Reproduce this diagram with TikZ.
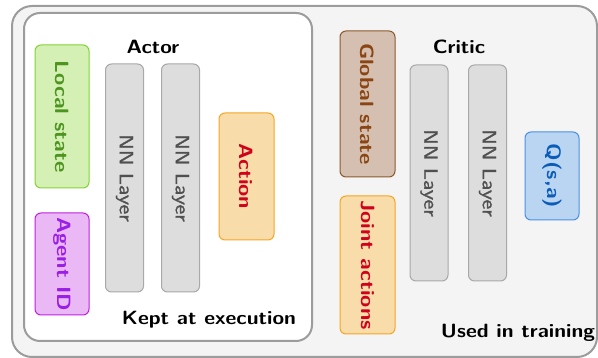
\documentclass[tikz,border=0pt]{standalone}
\usepackage{graphicx}
\usepackage{xcolor}
\usepackage{fontspec}
\newfontfamily\nnfont{lmsans10-regular.otf}[FakeBold=1.1]

% palette
\definecolor{frameGray}{HTML}{9C9C9C}
\definecolor{outerFill}{HTML}{F4F4F4}
\definecolor{nnFill}{HTML}{DDDDDD}
\definecolor{nnDraw}{HTML}{A8A8A8}
\definecolor{nnText}{HTML}{505050}
\definecolor{locFill}{HTML}{D4F0B4}
\definecolor{locDraw}{HTML}{82D435}
\definecolor{locText}{HTML}{4E9420}
\definecolor{idFill}{HTML}{EAB8F5}
\definecolor{idDraw}{HTML}{C21EE0}
\definecolor{idText}{HTML}{9A1EE6}
\definecolor{actFill}{HTML}{F8DCAA}
\definecolor{actDraw}{HTML}{F5A623}
\definecolor{actText}{HTML}{D0021B}
\definecolor{gloFill}{HTML}{D4BFB0}
\definecolor{gloDraw}{HTML}{8B5A2B}
\definecolor{gloText}{HTML}{8B4513}
\definecolor{qFill}{HTML}{BAD5F2}
\definecolor{qDraw}{HTML}{4A90E2}
\definecolor{qText}{HTML}{0B5CB8}

% 10pt design size, blown up (wide) for the labels
\newcommand{\sidetxt}[1]{\scalebox{2.3}[2]{#1}}
\newcommand{\headtxt}[1]{\scalebox{2.2}[2]{#1}}

\begin{document}
\begin{tikzpicture}[
		x=1pt, y=-1pt,
		frame/.style={draw=frameGray, line width=2pt, rounded corners=#1},
		tag/.style={rounded corners=6pt, rotate=-90, line width=1pt, inner sep=0pt,
			font=\sffamily\bfseries\fontsize{9.6}{11}\selectfont},
		nn/.style={tag, fill=nnFill, draw=nnDraw, text=nnText,
			minimum width=#1, minimum height=38pt,
			font=\nnfont\fontsize{9.6}{11}\selectfont},
		title/.style={font=\sffamily\bfseries\fontsize{9.6}{11}\selectfont}
		]
		
		\useasboundingbox (0,0) rectangle (598,358);
		
		% ==========================================
		% FRAMES
		% ==========================================
		\draw[frame=20pt, fill=outerFill] (12,6) rectangle (597,357);
		\draw[frame=16pt, fill=white] (24,13) rectangle (312,341);
		
		% ==========================================
		% ACTOR
		% ==========================================
		\node[title] (actor) at (153,47) {\headtxt{Actor}};
		
		\node[tag, fill=locFill, draw=locDraw, text=locText,
			minimum width=143pt, minimum height=54pt] (local) at (62,116.5) {\sidetxt{Local state}};
		\node[tag, fill=idFill, draw=idDraw, text=idText,
			minimum width=102pt, minimum height=54pt] (agent) at (62,264) {\sidetxt{Agent ID}};
		
		\node[nn=228pt] (anA) at (124.5,178) {\sidetxt{NN Layer}};
		\node[nn=228pt] (anB) at (180.5,178) {\sidetxt{NN Layer}};
		
		\node[tag, fill=actFill, draw=actDraw, text=actText,
			minimum width=127pt, minimum height=55pt] (action) at (246.5,176.5) {\sidetxt{Action}};
		
		\node[title] (kept) at (209,320) {\headtxt{Kept at execution}};
		
		% ==========================================
		% CRITIC
		% ==========================================
		\node[title] (critic) at (459,47) {\headtxt{Critic}};
		
		\node[tag, fill=gloFill, draw=gloDraw, text=gloText,
			minimum width=146pt, minimum height=55pt] (global) at (367.5,104) {\sidetxt{Global state}};
		\node[tag, fill=actFill, draw=actDraw, text=actText,
			minimum width=138pt, minimum height=55pt] (joint) at (367.5,265) {\sidetxt{Joint actions}};
		
		\node[nn=216pt] (cnA) at (429,173) {\sidetxt{NN Layer}};
		\node[nn=216pt] (cnB) at (487.5,173) {\sidetxt{NN Layer}};
		
		\node[tag, fill=qFill, draw=qDraw, text=qText,
			minimum width=88pt, minimum height=54pt] (qval) at (552,176) {\sidetxt{Q(s,a)}};
		
		\node[title] (used) at (518,333) {\headtxt{Used in training}};
		
	\end{tikzpicture}
\end{document}
